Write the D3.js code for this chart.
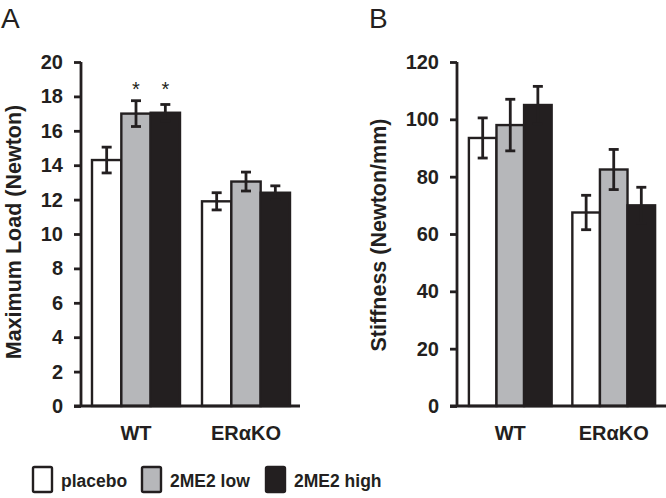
<!DOCTYPE html>
<html><head><meta charset="utf-8">
<script src="https://cdn.jsdelivr.net/npm/d3@7"></script>
<style>
body{margin:0;background:#fff;}
svg{display:block;font-family:"Liberation Sans",Arial,sans-serif;}
</style></head>
<body><svg id="c" width="666" height="498"></svg>
<script>
const groups = ["WT", "ERαKO"];
const series = ["placebo", "2ME2 low", "2ME2 high"];
const colors = ["#ffffff", "#b6b7ba", "#231f20"];
const loadMean = [[14.3, 17.0, 17.05], [11.9, 13.05, 12.4]];
const loadErr  = [[0.75, 0.75, 0.48], [0.5, 0.55, 0.4]];
const loadStars = [[false, true, true], [false, false, false]];
const stiffMean = [[93.5, 98.0, 105.0], [67.5, 82.5, 70.0]];
const stiffErr  = [[7.0, 9.0, 6.5], [6.0, 7.0, 6.3]];
const loadTicks = [0, 2, 4, 6, 8, 10, 12, 14, 16, 18, 20];
const stiffTicks = [0, 20, 40, 60, 80, 100, 120];

const svg = d3.select("#c");
const INK = "#231f20";

function panel(opt) {
  const g = svg.append("g");
  const y = d3.scaleLinear().domain(opt.domain).range([406, 62]);
  const x0 = d3.scaleBand().domain(groups).range(opt.xr).paddingInner(0.2).paddingOuter(opt.po);
  const x1 = d3.scaleBand().domain(series).range([0, x0.bandwidth()]);

  groups.forEach((gr, gi) => {
    series.forEach((s, si) => {
      const xx = x0(gr) + x1(s);
      const v = opt.mean[gi][si];
      g.append("rect")
        .attr("x", xx).attr("y", y(v))
        .attr("width", x1.bandwidth()).attr("height", y(0) - y(v))
        .attr("fill", colors[si]).attr("stroke", INK).attr("stroke-width", 2.4);
      const cx = xx + x1.bandwidth() / 2;
      const e = opt.err[gi][si];
      g.append("line").attr("x1", cx).attr("x2", cx).attr("y1", y(v + e)).attr("y2", y(v - e))
        .attr("stroke", INK).attr("stroke-width", 2.8);
      [v + e, v - e].forEach(t => {
        g.append("line").attr("x1", cx - 5).attr("x2", cx + 5).attr("y1", y(t)).attr("y2", y(t))
          .attr("stroke", INK).attr("stroke-width", 2.8);
      });
      if (opt.stars && opt.stars[gi][si]) {
        g.append("text").attr("x", cx).attr("y", 96)
          .attr("text-anchor", "middle").attr("font-size", 20).attr("fill", INK).text("*");
      }
    });
  });

  const ya = d3.axisLeft(y).tickValues(opt.ticks).tickSize(7).tickPadding(11).tickFormat(d3.format("d"));
  const ag = g.append("g").attr("transform", `translate(${opt.xr[0]},0)`).call(ya);
  ag.select(".domain").attr("stroke", INK).attr("stroke-width", 2.8).attr("d", `M0,${y(opt.domain[1])}V${y(0)}`);
  ag.selectAll(".tick line").attr("stroke", INK).attr("stroke-width", 2.8);
  ag.selectAll(".tick text").attr("font-size", 20).attr("font-weight", "bold").attr("fill", INK)
    .attr("font-family", "Liberation Sans, Arial, sans-serif");

  const xa = d3.axisBottom(x0).tickSize(0).tickPadding(20);
  const xg = g.append("g").attr("transform", `translate(0,${y(0)})`).call(xa);
  xg.select(".domain").attr("stroke", INK).attr("stroke-width", 2.8)
    .attr("d", `M${opt.xr[0] - 7},0H${opt.xEnd}`);
  xg.selectAll(".tick text").attr("font-size", 20).attr("font-weight", "bold").attr("fill", INK)
    .attr("font-family", "Liberation Sans, Arial, sans-serif");

  g.append("text").attr("transform", `translate(${opt.tx},${opt.ty}) rotate(-90)`)
    .attr("text-anchor", "middle").attr("font-size", 21.5).attr("font-weight", "bold").attr("fill", INK)
    .text(opt.title);
  g.append("text").attr("x", opt.lx).attr("y", 28).attr("font-size", 28).attr("fill", INK).text(opt.letter);
}

panel({domain: [0, 20], ticks: loadTicks, mean: loadMean, err: loadErr, stars: loadStars,
  xr: [81, 301], po: 0.1, xEnd: 300, title: "Maximum Load (Newton)", tx: 21, ty: 232, letter: "A", lx: 1});
panel({domain: [0, 120], ticks: stiffTicks, mean: stiffMean, err: stiffErr,
  xr: [457, 667], po: 0.115, xEnd: 666, title: "Stiffness (Newton/mm)", tx: 386, ty: 235, letter: "B", lx: 369});

const legX = [33, 142, 266];
const lg = svg.append("g");
series.forEach((s, i) => {
  lg.append("rect").attr("x", legX[i]).attr("y", 467).attr("width", 19).attr("height", 25).attr("rx", 1.5)
    .attr("fill", colors[i]).attr("stroke", INK).attr("stroke-width", 2.4);
  lg.append("text").attr("x", legX[i] + 28).attr("y", 487).attr("font-size", 17.5).attr("font-weight", "bold")
    .attr("fill", INK).text(s);
});
</script></body></html>
